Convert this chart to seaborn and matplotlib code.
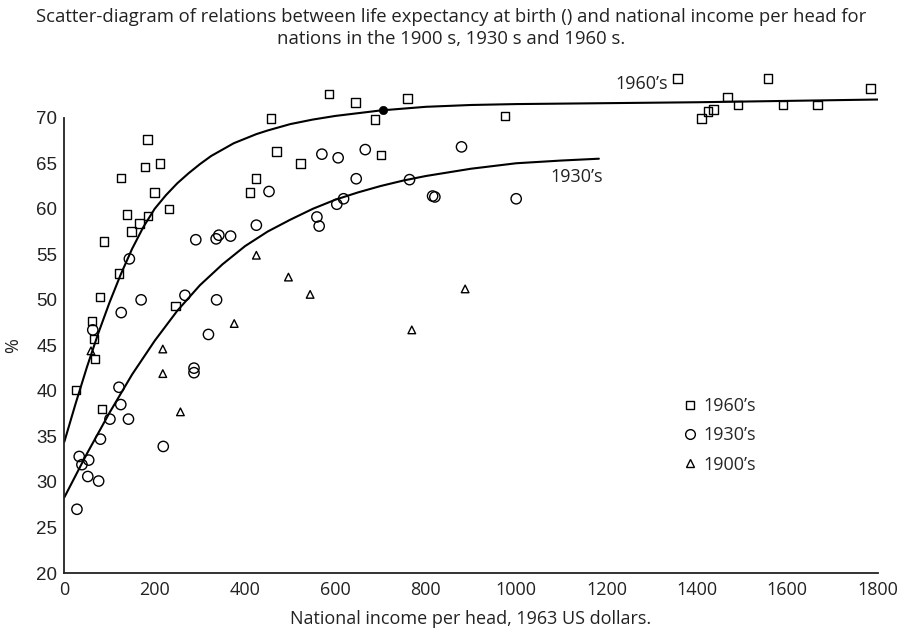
import numpy as np
import pandas as pd
import seaborn as sns
import matplotlib
matplotlib.use("Agg")
import matplotlib.pyplot as plt
from matplotlib.lines import Line2D

# ---------------- data ----------------
x_1960 = [26, 61, 66, 68, 79, 83, 88, 121, 125, 139, 149, 167, 179, 184, 185, 199, 212, 232, 246,
          411, 424, 457, 470, 523, 586, 644, 688, 701, 760, 975,
          1357, 1410, 1424, 1437, 1467, 1491, 1557, 1590, 1667, 1784]
y_1960 = [40.1, 47.7, 45.7, 43.5, 50.3, 38.0, 56.4, 52.9, 63.4, 59.4, 57.5, 58.4, 64.6, 67.6, 59.2, 61.8, 65.0, 60.0, 49.3,
          61.8, 63.3, 69.9, 66.3, 65.0, 72.6, 71.7, 69.8, 65.9, 72.1, 70.2,
          74.3, 69.9, 70.7, 70.9, 72.3, 71.4, 74.3, 71.4, 71.4, 73.2]

x_1930 = [28, 33, 39, 52, 54, 63, 76, 80, 101, 121, 125, 126, 142, 144, 170, 219, 267, 287, 287, 291,
          319, 336, 337, 342, 368, 425, 453, 559, 564, 570, 603, 606, 618, 646, 666, 764, 815, 820, 879, 1000]
y_1930 = [27.0, 32.8, 31.9, 30.6, 32.4, 46.7, 30.1, 34.7, 36.9, 40.4, 38.5, 48.6, 36.9, 54.5, 50.0, 33.9, 50.5, 42.5, 42.0, 56.6,
          46.2, 56.7, 50.0, 57.1, 57.0, 58.2, 61.9, 59.1, 58.1, 66.0, 60.5, 65.6, 61.1, 63.3, 66.5, 63.2, 61.4, 61.3, 66.8, 61.1]

x_1900 = [59, 218, 218, 257, 376, 425, 496, 544, 769, 887]
y_1900 = [44.4, 44.6, 41.9, 37.7, 47.4, 54.9, 52.5, 50.6, 46.7, 51.2]

# fitted curves
curve60_x = [0, 25, 50, 75, 100, 125, 150, 175, 200, 225, 250, 275, 300, 325, 350, 375, 400, 425, 450,
             500, 550, 600, 650, 700, 750, 800, 900, 1000, 1200, 1400, 1600, 1800]
curve60_y = [34.4, 38.6, 42.6, 46.3, 49.7, 52.8, 55.6, 58.0, 60.0, 61.5, 62.8, 63.9, 64.9, 65.8, 66.5, 67.2, 67.7, 68.2, 68.6,
             69.3, 69.8, 70.2, 70.5, 70.8, 71.0, 71.2, 71.4, 71.5, 71.6, 71.7, 71.85, 72.0]

curve30_x = [0, 50, 100, 150, 200, 250, 300, 350, 400, 450, 500, 550, 600, 650, 700, 750, 800, 900, 1000, 1100, 1183]
curve30_y = [28.3, 33.1, 37.6, 41.8, 45.5, 48.8, 51.6, 53.9, 55.9, 57.5, 58.8, 60.0, 61.0, 61.8, 62.5, 63.1, 63.6, 64.4, 65.0, 65.3, 65.5]

mean_x = [706]
mean_y = [70.9]

x_ticks = [0, 200, 400, 600, 800, 1000, 1200, 1400, 1600, 1800]
y_ticks = [20, 25, 30, 35, 40, 45, 50, 55, 60, 65, 70]

title = ("Scatter-diagram of relations between life expectancy at birth () and national income per head for\n"
         "nations in the 1900 s, 1930 s and 1960 s.")

# ---------------- plotting ----------------
sns.set_style("white")
plt.rcParams['font.family'] = ['Open Sans', 'DejaVu Sans']

fig = plt.figure(figsize=(9.03, 6.31), dpi=100)
ax = fig.add_axes([0.0712, 0.0919, 0.9008, 0.8081])

df60 = pd.DataFrame({"x": x_1960, "y": y_1960})
df30 = pd.DataFrame({"x": x_1930, "y": y_1930})
df00 = pd.DataFrame({"x": x_1900, "y": y_1900})

for d, m, s in [(df60, 's', 38), (df30, 'o', 55), (df00, '^', 30)]:
    sns.scatterplot(data=d, x="x", y="y", marker=m, s=s, color='black', ax=ax, clip_on=False, zorder=3)
for coll in ax.collections:
    coll.set_facecolor('none')
    coll.set_edgecolor('black')
    coll.set_linewidth(1.0)

sns.lineplot(x=curve60_x, y=curve60_y, color='black', lw=1.5, ax=ax, sort=False, estimator=None)
sns.lineplot(x=curve30_x, y=curve30_y, color='black', lw=1.5, ax=ax, sort=False, estimator=None)
sns.scatterplot(x=mean_x, y=mean_y, color='black', s=36, ax=ax, zorder=4, edgecolor='black')

ax.set_xlim(0, 1800)
ax.set_ylim(20, 76)
ax.spines['left'].set_bounds(20, 70)
for sp in ['top', 'right']:
    ax.spines[sp].set_visible(False)
for sp in ['left', 'bottom']:
    ax.spines[sp].set_linewidth(1.3)
    ax.spines[sp].set_color('#222222')

ax.set_xticks(x_ticks)
ax.set_yticks(y_ticks)
ax.set_xticklabels([str(v) for v in x_ticks], fontsize=13, color='#222222')
ax.set_yticklabels([str(v) for v in y_ticks], fontsize=13.5, color='#222222', family='Liberation Sans')
ax.tick_params(axis='both', direction='in', length=9.5, width=1.0, color='#222222')
ax.tick_params(axis='x', pad=6)
ax.tick_params(axis='y', pad=5)
for t in ax.yaxis.get_major_ticks()[:2]:
    t.tick1line.set_visible(False)

ax.set_xlabel("National income per head, 1963 US dollars.", fontsize=13, color='#222222', labelpad=8)
ax.set_ylabel("%", fontsize=13, color='#222222')
ax.yaxis.set_label_coords(-0.052, 0.446)

ax.text(1277, 73.7, "1960’s", fontsize=13, ha='center', va='center', color='#222222')
ax.text(1134, 63.5, "1930’s", fontsize=13, ha='center', va='center', color='#222222')

handles = [Line2D([], [], marker=m, ls='none', mfc='none', mec='black', ms=ms, mew=1.0)
           for m, ms in [('s', 6), ('o', 7), ('^', 6)]]
ax.legend(handles, ["1960’s", "1930’s", "1900’s"], frameon=False, fontsize=13,
          loc='upper left', bbox_to_anchor=(0.752, 0.359), handletextpad=0.3,
          handlelength=0.8, labelspacing=0.62, borderaxespad=0)

fig.text(0.5, 0.988, title, ha='center', va='top', fontsize=13.3, color='#222222', linespacing=1.35)

fig.savefig("out.png", dpi=100)
